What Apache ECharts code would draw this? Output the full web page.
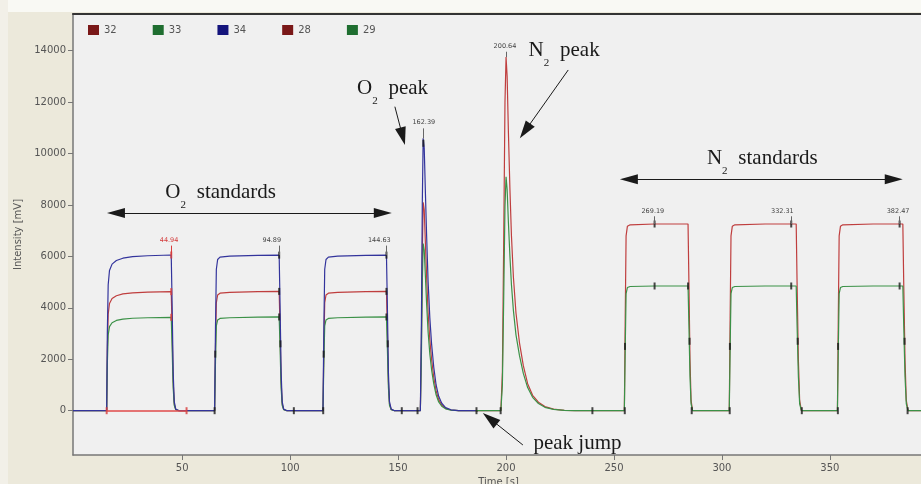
<!DOCTYPE html>
<html>
<head>
<meta charset="utf-8">
<script src="https://cdn.jsdelivr.net/npm/echarts@6/dist/echarts.min.js"></script>
<style>html,body{margin:0;padding:0;background:#ECE9DB;}#c{width:921px;height:484px;}</style>
</head>
<body>
<div id="c"></div>
<script>
// ---------- data ----------
const seriesNames = ['32', '33', '34', '28', '29'];
const xTicks = [50, 100, 150, 200, 250, 300, 350];
const yTicks = [0, 2000, 4000, 6000, 8000, 10000, 12000, 14000];

// mass 34 (O2 channel)
const s34 = [[-0.6,0],[15.0,0],[15.3,3000],[15.7,4900],[16.3,5450],[17.5,5700],[19.5,5840],[22.5,5930],[27,5990],[34,6025],[44.9,6055],[45.3,4200],[45.8,1500],[46.3,350],[47.0,60],[48.5,0],
 [65.0,0],[65.4,3200],[65.8,5500],[66.4,5880],[67.5,5970],[72,6010],[85,6040],[94.9,6050],[95.3,4200],[95.8,1500],[96.3,350],[97.0,60],[98.5,0],
 [115.2,0],[115.6,3200],[116.0,5500],[116.6,5880],[117.7,5970],[122,6010],[135,6040],[144.6,6050],[145.0,4200],[145.5,1500],[146.0,350],[146.8,60],[148.3,0],
 [160.3,0],[160.8,3500],[161.2,8000],[161.6,10590],[162.1,10200],[162.6,8600],[163.2,6800],[163.9,5000],[164.7,3600],[165.5,2600],[166.5,1700],[167.6,1000],[168.8,560],[170.2,290],[172,120],[174.5,35],[178,0],[187,0]];
// mass 32
const s32 = [[-0.6,0],[15.0,0],[15.3,2300],[15.7,3750],[16.3,4170],[17.5,4360],[19.5,4470],[22.5,4540],[27,4580],[34,4610],[44.9,4630],[45.3,3200],[45.8,1150],[46.3,270],[47,45],[48.5,0],
 [65.0,0],[65.4,2450],[65.8,4200],[66.4,4500],[67.5,4570],[72,4600],[85,4630],[94.9,4640],[95.3,3200],[95.8,1150],[96.3,270],[97,45],[98.5,0],
 [115.2,0],[115.6,2450],[116,4200],[116.6,4500],[117.7,4570],[122,4600],[135,4630],[144.6,4640],[145,3200],[145.5,1150],[146,270],[146.8,45],[148.3,0],
 [160.3,0],[160.8,2700],[161.2,6100],[161.6,8100],[162.1,7800],[162.6,6600],[163.2,5200],[163.9,3800],[164.7,2750],[165.5,2000],[166.5,1300],[167.6,770],[168.8,430],[170.2,220],[172,90],[174.5,27],[178,0],[187,0]];
// mass 33
const s33 = [[-0.6,0],[15,0],[15.3,1800],[15.7,2950],[16.3,3270],[17.5,3420],[19.5,3510],[22.5,3560],[27,3595],[34,3615],[44.9,3632],[45.3,2500],[45.8,900],[46.3,210],[47,35],[48.5,0],
 [65,0],[65.4,1900],[65.8,3300],[66.4,3530],[67.5,3590],[72,3615],[85,3635],[94.9,3645],[95.3,2500],[95.8,900],[96.3,210],[97,35],[98.5,0],
 [115.2,0],[115.6,1900],[116,3300],[116.6,3530],[117.7,3590],[122,3615],[135,3635],[144.6,3645],[145,2500],[145.5,900],[146,210],[146.8,35],[148.3,0],
 [160.3,0],[160.8,2150],[161.2,4900],[161.6,6500],[162.1,6250],[162.6,5300],[163.2,4150],[163.9,3050],[164.7,2200],[165.5,1600],[166.5,1050],[167.6,620],[168.8,340],[170.2,175],[172,72],[174.5,22],[178,0],[187,0]];
// mass 28 (N2 channel)
const s28 = [[186,0],[197.6,0],[198.3,1500],[198.9,6500],[199.5,12000],[200.0,13750],[200.5,13000],[201.1,10800],[201.8,8600],[202.5,6800],[203.4,5200],[204.6,3800],[206.2,2650],[208,1750],[210,1050],[212.3,600],[215,330],[218,160],[222,60],[227,15],[232,0],
 [254.8,0],[255.2,3600],[255.6,6800],[256.2,7170],[257.5,7230],[268.8,7260],[284.3,7260],[284.7,5000],[285.2,2000],[285.7,400],[286.4,0],
 [303.4,0],[303.8,3600],[304.2,6800],[304.8,7170],[306,7230],[320,7260],[334.4,7260],[334.8,5000],[335.4,2000],[336,400],[336.8,0],
 [353.5,0],[353.9,3600],[354.3,6800],[354.9,7170],[356,7230],[370,7260],[383.8,7260],[384.2,5000],[384.8,2000],[385.4,400],[386.2,0],[393.6,0]];
// mass 29
const s29 = [[186,0],[197.6,0],[198.3,1000],[198.9,4300],[199.5,7950],[200.0,9100],[200.5,8600],[201.1,7300],[201.8,6000],[202.5,4900],[203.4,3900],[204.6,2950],[206.2,2150],[208,1450],[210,900],[212.3,520],[215,280],[218,130],[222,50],[227,12],[232,0],
 [254.8,0],[255.2,2400],[255.6,4550],[256.2,4790],[257.5,4830],[268.8,4850],[284.3,4850],[284.7,3340],[285.2,1340],[285.7,270],[286.4,0],
 [303.4,0],[303.8,2400],[304.2,4550],[304.8,4790],[306,4830],[320,4850],[334.4,4850],[334.8,3340],[335.4,1340],[336,270],[336.8,0],
 [353.5,0],[353.9,2400],[354.3,4550],[354.9,4790],[356,4830],[370,4850],[383.8,4850],[384.2,3340],[384.8,1340],[385.4,270],[386.2,0],[393.6,0]];

// peak start / end / apex markers
const markerPts = [[65,0],[101.7,0],[115.3,0],[151.7,0],[159,0],[186.3,0],[197.5,0],[240,0],[255,0],[286,0],[303.6,0],[337,0],[353.7,0],[386,0],
 [94.9,6050],[94.9,4640],[94.9,3645],[144.6,6050],[144.6,4640],[144.6,3645],[161.7,10400],
 [268.8,7260],[268.8,4850],[284.3,4850],[332.1,7260],[332.1,4850],[382.3,7260],[382.3,4850],
 [65.3,2200],[115.5,2200],[95.5,2600],[145.2,2600],[255.1,2500],[285.0,2700],[303.7,2500],[335.1,2700],[353.8,2500],[384.6,2700]];
const selMarkerPts = [[15,0],[52,0],[44.9,6055],[44.9,4630],[44.9,3632]];
const selBaseline = [[15,0],[52,0]];

// peak time labels
const peakTimes = ['44.94', '94.89', '144.63', '162.39', '200.64', '269.19', '332.31', '382.47'];
const peakLabelAt = [[43.9,6640],[91.5,6640],[141.3,6640],[161.9,11200],[199.5,14180],[268.0,7770],[328.0,7770],[381.6,7770]];
const peakLeaders = [[[44.9,6055],[44.9,6420]],[[94.9,6050],[94.9,6420]],[[144.6,6050],[144.6,6420]],[[161.7,10590],[161.7,10980]],[[200.0,13750],[200.0,13960]],[[268.8,7260],[268.8,7560]],[[332.1,7260],[332.1,7560]],[[382.3,7260],[382.3,7560]]];

// annotation texts and arrows
const annotTexts = ['O2 standards', 'O2 peak', 'N2 peak', 'N2 standards', 'peak jump'];
const annotAt = [[67.8,8480],[147.4,12520],[226.9,14020],[318.7,9790],[233.1,-1280]];
const doubleArrows = [[[19.3,7690],[142.9,7690]], [[256.9,9000],[379.6,9000]]];
const singleArrows = [[[148.5,11823],[152.1,10671]], [[228.8,13250],[208.8,10878]], [[207.8,-1334],[192.5,-307]]];

// ---------- chart ----------
const RED = '#bf3e3e', GREEN = '#3b9147', BLUE = '#33349c';
const legendColors = ['#7a1818', '#1f6e30', '#14147c', '#7a1818', '#1f6e30'];
const lineColors = [RED, GREEN, BLUE, RED, GREEN];
const seriesData = [s32, s33, s34, s28, s29];

function richLabel(t) {
  if (t[1] === '2') return '{m|' + t[0] + '}{s|2  }{m|' + t.slice(2) + '}';
  return '{m|' + t + '}';
}

const chart = echarts.init(document.getElementById('c'));
const lineSeries = seriesNames.map((n, i) => ({
  name: n, type: 'line', data: seriesData[i], showSymbol: false, symbol: 'none',
  lineStyle: { color: lineColors[i], width: 1.2 }, itemStyle: { color: lineColors[i] },
  emphasis: { disabled: true }, silent: true, z: 2
}));
lineSeries[0].markLine = {
  silent: true, symbol: 'none', animation: false, label: { show: false },
  lineStyle: { color: '#e04a4a', width: 1.5, type: 'solid' },
  data: [[{ coord: selBaseline[0] }, { coord: selBaseline[1] }]]
};

const arrowSym = [10, 18];
const markLineData = [];
doubleArrows.forEach(a => markLineData.push([
  { coord: a[0], symbol: 'triangle', symbolSize: arrowSym },
  { coord: a[1], symbol: 'triangle', symbolSize: arrowSym }]));
singleArrows.forEach(a => markLineData.push([
  { coord: a[0], symbol: 'none' },
  { coord: a[1], symbol: 'triangle', symbolSize: [11, 18] }]));
peakLeaders.forEach((a, i) => markLineData.push([
  { coord: a[0], symbol: 'none', lineStyle: { color: i === 0 ? '#d83c3c' : '#666', width: 1 } },
  { coord: a[1], symbol: 'none' }]));

const markPointData = [];
annotTexts.forEach((t, i) => markPointData.push({ coord: annotAt[i], name: t, label: { formatter: richLabel(t) } }));
peakTimes.forEach((t, i) => markPointData.push({ coord: peakLabelAt[i], name: t, label: { formatter: '{' + (i === 0 ? 'r' : 'v') + '|' + t + '}' } }));

const option = {
  animation: false,
  backgroundColor: '#ECE9DB',
  graphic: [
    { type: 'rect', shape: { x: 0, y: 0, width: 921, height: 12 }, style: { fill: '#F9F9F4' }, silent: true },
    { type: 'rect', shape: { x: 0, y: 0, width: 8, height: 484 }, style: { fill: '#F2F0E8' }, silent: true }
  ],
  grid: { left: 73, top: 14, right: -3, bottom: 29, show: true, backgroundColor: '#F0F0F0', borderWidth: 0,
          containLabel: false, outerBoundsMode: 'none' },
  legend: {
    data: seriesNames.map((n, i) => ({ name: n, itemStyle: { color: legendColors[i], borderWidth: 0 } })),
    left: 83, top: 20, icon: 'rect', itemWidth: 11, itemHeight: 10, itemGap: 36,
    selectedMode: false,
    textStyle: { fontSize: 10, color: '#555', fontFamily: 'DejaVu Sans' }
  },
  xAxis: [{
    type: 'value', min: -0.6, max: 393.6, position: 'bottom',
    axisLine: { onZero: false, lineStyle: { color: '#777', width: 1.5 } },
    axisTick: { show: true, customValues: xTicks, length: 5, lineStyle: { color: '#777' } },
    axisLabel: { customValues: xTicks, margin: 8, color: '#555', fontSize: 10, fontFamily: 'DejaVu Sans' },
    splitLine: { show: false },
    name: 'Time [s]', nameLocation: 'middle', nameGap: 21,
    nameTextStyle: { fontSize: 10, color: '#555', fontFamily: 'DejaVu Sans' }
  }, {
    type: 'value', min: -0.6, max: 393.6, position: 'top',
    axisLine: { onZero: false, lineStyle: { color: '#333', width: 2 } },
    axisTick: { show: false }, axisLabel: { show: false }, splitLine: { show: false }
  }],
  yAxis: {
    type: 'value', min: -1723, max: 15427,
    axisLine: { show: true, onZero: false, lineStyle: { color: '#777', width: 1.5 } },
    axisTick: { show: true, customValues: yTicks, length: 5, lineStyle: { color: '#777' } },
    axisLabel: { customValues: yTicks, margin: 7, color: '#555', fontSize: 10, fontFamily: 'DejaVu Sans', formatter: v => String(v) },
    splitLine: { show: false },
    name: 'Intensity [mV]', nameLocation: 'middle', nameGap: 46,
    nameTextStyle: { fontSize: 10, color: '#555', fontFamily: 'DejaVu Sans' }
  },
  series: lineSeries.concat([
    {
      name: 'markers', type: 'scatter', data: markerPts, symbol: 'rect', symbolSize: [2, 7],
      itemStyle: { color: '#1c1c1c' }, silent: true, z: 4
    },
    {
      name: 'selMarkers', type: 'scatter', data: selMarkerPts, symbol: 'rect', symbolSize: [2, 7],
      itemStyle: { color: '#d83c3c' }, silent: true, z: 4
    },
    {
      name: 'annot', type: 'scatter', data: [], silent: true, z: 6,
      markLine: {
        silent: true, animation: false, label: { show: false },
        lineStyle: { color: '#1a1a1a', width: 1, type: 'solid' },
        itemStyle: { color: '#111' },
        data: markLineData
      },
      markPoint: {
        silent: true, animation: false, symbol: 'circle', symbolSize: 1,
        itemStyle: { color: 'rgba(0,0,0,0)' },
        label: {
          show: true, position: 'inside',
          rich: {
            m: { fontFamily: 'Liberation Serif', fontSize: 21, color: '#1a1a1a', lineHeight: 36, verticalAlign: 'middle' },
            s: { fontFamily: 'Liberation Serif', fontSize: 11, color: '#1a1a1a', verticalAlign: 'bottom' },
            v: { fontFamily: 'DejaVu Sans', fontSize: 6.5, color: '#444' },
            r: { fontFamily: 'DejaVu Sans', fontSize: 6.5, color: '#d43a3a' }
          }
        },
        data: markPointData
      }
    }
  ])
};
chart.setOption(option);
</script>
</body>
</html>
